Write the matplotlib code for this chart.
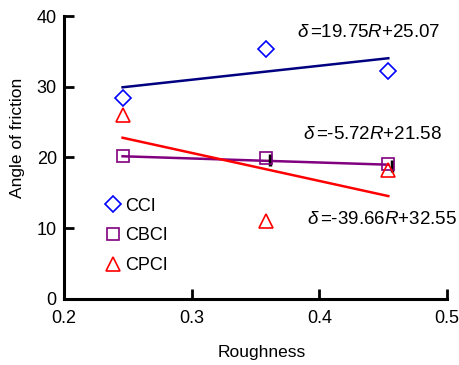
import matplotlib
matplotlib.use('Agg')
from matplotlib import pyplot as plt
import matplotlib.transforms as mtransforms
import numpy as np

plt.rcParams['font.family'] = ['Liberation Sans', 'DejaVu Sans']
plt.rcParams['mathtext.fontset'] = 'custom'
plt.rcParams['mathtext.rm'] = 'Liberation Sans'
plt.rcParams['mathtext.it'] = 'Liberation Sans:italic'

roughness = [0.246, 0.358, 0.454]
cci = [28.4, 35.4, 32.3]
cbci = [20.2, 19.9, 19.1]
cpci = [26.0, 11.0, 18.3]

# fitted lines: slope, intercept
fits = {'CCI': (19.75, 25.07), 'CBCI': (-5.72, 21.58), 'CPCI': (-39.66, 32.55)}
fit_labels = ['$\\delta\\,$=19.75$R$+25.07', '$\\delta\\,$=-5.72$R$+21.58', '$\\delta\\,$=-39.66$R$+32.55']

fig = plt.figure(figsize=(4.59, 3.65), dpi=100)
ax = fig.add_axes([0.139, 0.181, 0.835, 0.775])

r = np.array([roughness[0], roughness[-1]])
ax.plot(r, fits['CCI'][0] * r + fits['CCI'][1], color='#000080', lw=1.8, zorder=2)
ax.plot(r, fits['CBCI'][0] * r + fits['CBCI'][1], color='#800080', lw=1.8, zorder=2)
ax.plot(r, fits['CPCI'][0] * r + fits['CPCI'][1], color='red', lw=1.8, zorder=2)

# little black shadow next to two squares
shadow = mtransforms.offset_copy(ax.transData, fig=fig, x=4, y=-2, units='dots')
ax.plot(roughness[1:], cbci[1:], linestyle='none', marker='|', markersize=9,
        mew=2.5, color='black', transform=shadow, zorder=2)

ax.plot(roughness, cci, linestyle='none', marker='D', markersize=8.5, mfc='none',
        mec='blue', mew=1.2, label='CCI', zorder=3)
ax.plot(roughness, cbci, linestyle='none', marker='s', markersize=8.5, mfc='none',
        mec='#800080', mew=1.2, label='CBCI', zorder=3)
ax.plot(roughness, cpci, linestyle='none', marker='^', markersize=10.5, mfc='none',
        mec='red', mew=1.2, label='CPCI', zorder=3)

ax.text(0.4944, 37.7, fit_labels[0], fontsize=13.5, ha='right', va='center')
ax.text(0.4958, 23.2, fit_labels[1], fontsize=13.5, ha='right', va='center')
ax.text(0.5077, 11.3, fit_labels[2], fontsize=13.5, ha='right', va='center')

ax.legend(loc='upper left', bbox_to_anchor=(0.077, 0.39), frameon=False, fontsize=13,
          handletextpad=0.05, handlelength=1.2, labelspacing=0.7, borderpad=0)

ax.set_xlim(0.2, 0.5)
ax.set_ylim(0, 40)
ax.set_xticks([0.2, 0.3, 0.4, 0.5])
ax.set_yticks([0, 10, 20, 30, 40])
ax.set_xticklabels(['0.2', '0.3', '0.4', '0.5'])
ax.tick_params(direction='in', length=7, width=2, labelsize=13)
ax.tick_params(axis='x', pad=8)
ax.tick_params(axis='y', pad=5)
for side in ['top', 'right']:
    ax.spines[side].set_visible(False)
for side in ['left', 'bottom']:
    ax.spines[side].set_linewidth(2.2)

ax.set_xlabel('Roughness', fontsize=12.5)
ax.set_ylabel('Angle of friction', fontsize=12.5)
ax.xaxis.set_label_coords(0.517, -0.163)
ax.yaxis.set_label_coords(-0.10, 0.569)

fig.savefig('out.png', dpi=100)
